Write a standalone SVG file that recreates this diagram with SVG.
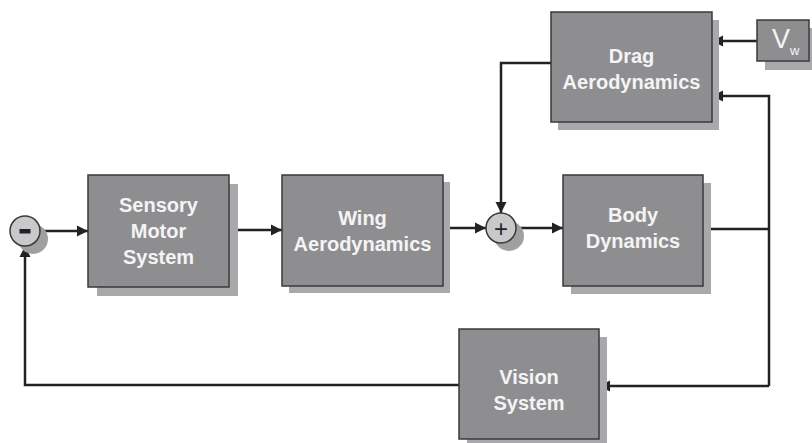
<svg xmlns="http://www.w3.org/2000/svg" width="812" height="443" viewBox="0 0 812 443">
<defs>
<style>
.sh{fill:#a9a9ab}
.bx{fill:#8e8e91;stroke:#3a3a3a;stroke-width:1.5}
.t{fill:#f4f4f4;font-family:"Liberation Sans",Arial,sans-serif;font-weight:bold;font-size:20px;text-anchor:middle}
.cs{fill:#a0a0a2}
.c{fill:#c9c9cb;stroke:#3a3a3a;stroke-width:1.5}
.ln{fill:none;stroke:#222;stroke-width:2.5}
</style>
<marker id="ah" viewBox="0 0 10 10" refX="10" refY="5" markerWidth="4.5" markerHeight="4.5" orient="auto" markerUnits="strokeWidth">
<path d="M0,0 L10,5 L0,10 z" fill="#222"/>
</marker>
</defs>
<rect width="812" height="443" fill="#ffffff"/>
<g id="connectors">
<line class="ln" x1="40" y1="231" x2="88" y2="231" marker-end="url(#ah)"/>
<line class="ln" x1="229" y1="230" x2="282" y2="230" marker-end="url(#ah)"/>
<line class="ln" x1="443" y1="228" x2="486" y2="228" marker-end="url(#ah)"/>
<line class="ln" x1="517" y1="228" x2="563" y2="228" marker-end="url(#ah)"/>
<polyline class="ln" points="551,63 501,63 501,213" marker-end="url(#ah)"/>
<polyline class="ln" points="703,229 769,229"/>
<polyline class="ln" points="769,386 769,96 712,96" marker-end="url(#ah)"/>
<line class="ln" x1="757" y1="41" x2="712" y2="41" marker-end="url(#ah)"/>
<line class="ln" x1="769" y1="386" x2="599" y2="386" marker-end="url(#ah)"/>
<polyline class="ln" points="459,385 25,385 25,246" marker-end="url(#ah)"/>
</g>
<g id="minus">
<circle class="cs" cx="33" cy="239" r="15"/>
<circle class="c" cx="25" cy="231" r="15"/>
<rect x="19.5" y="229" width="11" height="4.5" fill="#222"/>
</g>
<g id="plus">
<circle class="cs" cx="509" cy="236" r="15"/>
<circle class="c" cx="501" cy="228" r="15"/>
<text x="501" y="236.5" style="font-family:'Liberation Sans',Arial,sans-serif;font-size:24px;text-anchor:middle;fill:#222">+</text>
</g>
<g id="sensory">
<rect class="sh" x="97" y="184" width="141" height="112"/>
<rect class="bx" x="88" y="175" width="141" height="112"/>
<text class="t" x="158.5" y="212">Sensory</text>
<text class="t" x="158.5" y="238">Motor</text>
<text class="t" x="158.5" y="264">System</text>
</g>
<g id="wing">
<rect class="sh" x="289" y="182" width="161" height="111"/>
<rect class="bx" x="282" y="175" width="161" height="111"/>
<text class="t" x="362.5" y="225">Wing</text>
<text class="t" x="362.5" y="251">Aerodynamics</text>
</g>
<g id="body">
<rect class="sh" x="571" y="183" width="140" height="111"/>
<rect class="bx" x="563" y="175" width="140" height="111"/>
<text class="t" x="633" y="222">Body</text>
<text class="t" x="633" y="248">Dynamics</text>
</g>
<g id="drag">
<rect class="sh" x="558" y="20" width="161" height="110"/>
<rect class="bx" x="551" y="12" width="161" height="110"/>
<text class="t" x="631.5" y="63">Drag</text>
<text class="t" x="631.5" y="89">Aerodynamics</text>
</g>
<g id="vw">
<rect class="sh" x="765" y="28" width="47" height="42"/>
<rect class="bx" x="757" y="20" width="52" height="41"/>
<text x="772" y="48" style="fill:#f4f4f4;font-family:'Liberation Sans',Arial,sans-serif;font-size:27px">V</text>
<text x="790" y="55" style="fill:#f4f4f4;font-family:'Liberation Sans',Arial,sans-serif;font-size:13px">w</text>
</g>
<g id="vision">
<rect class="sh" x="467" y="337" width="140" height="110"/>
<rect class="bx" x="459" y="329" width="140" height="110"/>
<text class="t" x="529" y="384">Vision</text>
<text class="t" x="529" y="410">System</text>
</g>
</svg>
